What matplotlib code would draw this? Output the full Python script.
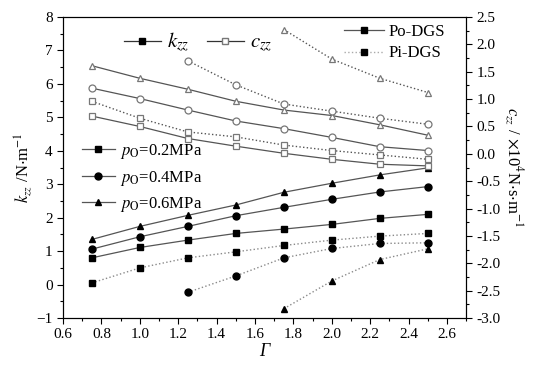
import numpy as np
import matplotlib
matplotlib.use("Agg")
import matplotlib.pyplot as plt
from matplotlib.lines import Line2D

plt.rcParams['font.family'] = ['Liberation Serif', 'DejaVu Serif']
plt.rcParams['mathtext.fontset'] = 'stix'
plt.rcParams['font.size'] = 11

# Gamma values
gam = [0.75, 1.0, 1.25, 1.5, 1.75, 2.0, 2.25, 2.5]

# k_zz, Po-DGS (solid, filled markers), left axis
k_po_02 = [0.80, 1.11, 1.33, 1.53, 1.66, 1.80, 1.98, 2.10]
k_po_04 = [1.06, 1.43, 1.74, 2.06, 2.31, 2.55, 2.77, 2.93]
k_po_06 = [1.35, 1.74, 2.07, 2.38, 2.76, 3.03, 3.28, 3.49]
# k_zz, Pi-DGS (dotted)
k_pi_02 = [0.05, 0.50, 0.80, 0.98, 1.17, 1.33, 1.45, 1.53]
k_pi_04 = [None, None, -0.23, 0.26, 0.80, 1.08, 1.23, 1.25]
k_pi_06 = [None, None, None, None, -0.72, 0.11, 0.75, 1.07]

# c_zz (x10^4), Po-DGS (solid, open markers), right axis
c_po_02 = [0.69, 0.50, 0.28, 0.14, 0.01, -0.10, -0.19, -0.22]
c_po_04 = [1.20, 1.01, 0.80, 0.60, 0.46, 0.30, 0.13, 0.06]
c_po_06 = [1.61, 1.38, 1.18, 0.96, 0.80, 0.70, 0.53, 0.34]
# c_zz, Pi-DGS (dotted)
c_pi_02 = [0.96, 0.65, 0.40, 0.31, 0.16, 0.06, -0.02, -0.10]
c_pi_04 = [None, None, 1.70, 1.26, 0.91, 0.78, 0.65, 0.54]
c_pi_06 = [None, None, None, None, 2.27, 1.73, 1.38, 1.12]

pressures = ['0.2', '0.4', '0.6']
markers = ['s', 'o', '^']

def clean(xs, ys):
    pts = [(x, y) for x, y in zip(xs, ys) if y is not None]
    return [p[0] for p in pts], [p[1] for p in pts]

fig = plt.figure(figsize=(5.36, 3.69), dpi=100)
ax = fig.add_axes([0.1175, 0.138, 0.7525, 0.816])
ax2 = ax.twinx()

solid_c = '#555555'
dot_c = '#8a8a8a'
ms = 5

for ys, m in zip([k_po_02, k_po_04, k_po_06], markers):
    x, y = clean(gam, ys)
    ax.plot(x, y, '-', color=solid_c, lw=0.9, marker=m, ms=ms, mfc='black', mec='black')
for ys, m in zip([k_pi_02, k_pi_04, k_pi_06], markers):
    x, y = clean(gam, ys)
    ax.plot(x, y, ':', color=dot_c, lw=1.0, marker=m, ms=ms, mfc='black', mec='black')
for ys, m in zip([c_po_02, c_po_04, c_po_06], markers):
    x, y = clean(gam, ys)
    ax2.plot(x, y, '-', color=solid_c, lw=0.9, marker=m, ms=ms, mfc='white', mec='#777777', mew=0.9)
for ys, m in zip([c_pi_02, c_pi_04, c_pi_06], markers):
    x, y = clean(gam, ys)
    ax2.plot(x, y, ':', color='#555555', lw=1.0, marker=m, ms=ms, mfc='white', mec='#777777', mew=0.9)

ax.set_xlim(0.6, 2.7)
ax.set_ylim(-1, 8)
ax2.set_ylim(-3.0, 2.5)
ax.set_xticks(np.arange(0.6, 2.61, 0.2))
ax.set_xticks(np.arange(0.6, 2.71, 0.1), minor=True)
ax.set_yticks(np.arange(-1, 8.1, 1))
ax.set_yticks(np.arange(-1, 8.1, 0.5), minor=True)
ax2.set_yticks(np.arange(-3.0, 2.51, 0.5))
ax2.set_yticks(np.arange(-3.0, 2.51, 0.25), minor=True)
ax.set_xticklabels(['%.1f' % v for v in np.arange(0.6, 2.61, 0.2)])
ax2.set_yticklabels(['%.1f' % v for v in np.arange(-3.0, 2.51, 0.5)])

for a in (ax, ax2):
    a.tick_params(which='major', length=4, width=0.8, direction='out', labelsize=11)
    a.tick_params(which='minor', length=2, width=0.8, direction='out')

ax.set_xlabel('Γ', fontsize=13, style='italic', labelpad=1)
ax.set_ylabel(r'$k_{zz}$ /N$\cdot$m$^{-1}$', fontsize=12, labelpad=2)
ax2.set_ylabel(r'$c_{zz}$ / $\times$10$^{4}$N$\cdot$s$\cdot$m$^{-1}$', fontsize=12,
               rotation=270, labelpad=17)

# legend: k_zz / c_zz
h1 = [Line2D([], [], color='#333333', lw=0.9, marker='s', ms=ms, mfc='black', mec='black'),
      Line2D([], [], color='#333333', lw=0.9, marker='s', ms=ms, mfc='white', mec='#777777')]
leg1 = ax2.legend(h1, [r'$k_{zz}$', r'$c_{zz}$'], ncol=2, frameon=False, fontsize=15,
                  loc='center left', bbox_to_anchor=(0.13, 0.915), handlelength=1.8,
                  handletextpad=0.3, columnspacing=0.8, borderaxespad=0)
ax2.add_artist(leg1)

# legend: Po/Pi
h2 = [Line2D([], [], color=solid_c, lw=0.9, marker='s', ms=ms, mfc='black', mec='black'),
      Line2D([], [], color='#aaaaaa', lw=1.0, ls=':', marker='s', ms=ms, mfc='black', mec='black')]
leg2 = ax2.legend(h2, ['Po-DGS', 'Pi-DGS'], frameon=False, fontsize=12,
                  loc='center left', bbox_to_anchor=(0.68, 0.915), handlelength=2.4,
                  handletextpad=0.3, labelspacing=0.35, borderaxespad=0)
ax2.add_artist(leg2)

# legend: pressures
h3 = [Line2D([], [], color=solid_c, lw=0.9, marker=m, ms=ms, mfc='black', mec='black') for m in markers]
ax2.legend(h3, [r'$p_{\rm O}$=%sMPa' % p for p in pressures], frameon=False, fontsize=12,
           loc='center left', bbox_to_anchor=(0.03, 0.465), handlelength=2.0,
           handletextpad=0.3, labelspacing=0.45, borderaxespad=0)

fig.savefig('out.png', dpi=100)
